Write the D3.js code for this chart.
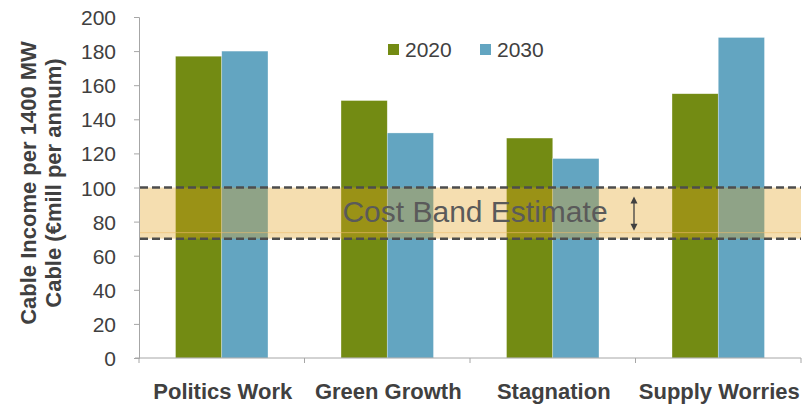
<!DOCTYPE html>
<html>
<head>
<meta charset="utf-8">
<script src="https://cdn.jsdelivr.net/npm/d3@7"></script>
<style>
  html, body { margin: 0; padding: 0; background: #fff; }
  svg { display: block; font-family: "Liberation Sans", Arial, sans-serif; }
</style>
</head>
<body>
<svg id="chart" width="803" height="409"></svg>
<script>
// Scenario data: cable income per 1400 MW cable (€mill per annum)
const scenarios = ["Politics Work", "Green Growth", "Stagnation", "Supply Worries"];
const years = ["2020", "2030"];
const income2020 = [177, 151, 129, 155];
const income2030 = [180, 132, 117, 188];
const yTicks = [0, 20, 40, 60, 80, 100, 120, 140, 160, 180, 200];
const costBand = [70, 100];
const colors = { "2020": "#738b13", "2030": "#63a5c1" };

const svg = d3.select("#chart");
const margin = { left: 139, right: 2, top: 17, bottom: 51 };
const W = 803, H = 409;

const x = d3.scaleBand().domain(scenarios)
  .range([margin.left, W - margin.right]).paddingInner(0).paddingOuter(0);
const x1 = d3.scaleBand().domain(years)
  .range([0, x.bandwidth()]).paddingOuter(0.79).paddingInner(0);
const y = d3.scaleLinear().domain([0, 200]).range([H - margin.bottom, margin.top]);

const rows = scenarios.map((s, i) => ({ s, v: { "2020": income2020[i], "2030": income2030[i] } }));

// Bars
const g = svg.append("g");
rows.forEach(r => {
  years.forEach(yr => {
    g.append("rect")
      .attr("x", x(r.s) + x1(yr))
      .attr("y", y(r.v[yr]))
      .attr("width", x1.bandwidth())
      .attr("height", y(0) - y(r.v[yr]))
      .attr("fill", colors[yr])
      .attr("stroke", "rgba(255,255,255,0.5)")
      .attr("stroke-width", 0.6);
  });
});

// Y axis
const yAxis = d3.axisLeft(y).tickValues(yTicks).tickSize(5).tickPadding(18);
const ya = svg.append("g").attr("transform", `translate(${margin.left},0)`).call(yAxis);
ya.select(".domain").attr("stroke", "#a6a6a6");
ya.selectAll(".tick line").attr("stroke", "#a6a6a6");
ya.selectAll(".tick text").attr("fill", "#404040").style("font-size", "21px")
  .style("font-family", "'Liberation Sans', Arial, sans-serif").attr("dy", "0.36em");

// X axis
const xa = svg.append("g").attr("transform", `translate(0,${y(0)})`);
xa.append("line").attr("x1", margin.left - 4).attr("x2", W - margin.right)
  .attr("y1", 0).attr("y2", 0).attr("stroke", "#a6a6a6");
const bounds = scenarios.map(s => x(s)).concat([x.range()[1]]);
xa.selectAll("line.tk").data(bounds).join("line").attr("class", "tk")
  .attr("x1", d => d).attr("x2", d => d).attr("y1", 0).attr("y2", 5)
  .attr("stroke", "#a6a6a6");
xa.selectAll("text").data(scenarios).join("text")
  .attr("x", d => x(d) + x.bandwidth() / 2 + 1)
  .attr("y", 41)
  .attr("text-anchor", "middle")
  .attr("fill", "#404040")
  .style("font-size", "22px")
  .style("font-weight", "bold")
  .text(d => d);

// Y axis title
const title = svg.append("text")
  .attr("transform", `translate(0,183) rotate(-90)`)
  .attr("text-anchor", "middle")
  .attr("fill", "#404040")
  .style("font-size", "22px")
  .style("font-weight", "bold");
title.append("tspan").attr("x", 0).attr("y", 36).text("Cable Income per 1400 MW");
title.append("tspan").attr("x", 0).attr("y", 61).text("Cable (€mill per annum)");

// Cost band
const band = svg.append("g");
band.append("rect")
  .attr("x", margin.left + 1).attr("width", W - margin.right - margin.left - 1)
  .attr("y", y(costBand[1])).attr("height", y(costBand[0]) - y(costBand[1]))
  .attr("fill", "rgb(226,161,29)").attr("fill-opacity", 0.35);
band.append("line")
  .attr("x1", margin.left + 1).attr("x2", W - margin.right)
  .attr("y1", y(costBand[0]) - 6).attr("y2", y(costBand[0]) - 6)
  .attr("stroke", "rgb(236,190,110)").attr("stroke-opacity", 0.6);
costBand.forEach(v => {
  band.append("line")
    .attr("x1", margin.left + 1).attr("x2", W - margin.right)
    .attr("y1", y(v)).attr("y2", y(v))
    .attr("stroke", "#4d4d4d").attr("stroke-width", 2.5)
    .attr("stroke-dasharray", "8,4");
});
band.append("text")
  .attr("x", 475).attr("y", 222)
  .attr("text-anchor", "middle")
  .attr("fill", "#5a5a5a")
  .style("font-size", "30px")
  .text("Cost Band Estimate");

// Double-headed arrow
const ax = 634, ay1 = y(costBand[1]) + 9, ay2 = y(costBand[0]) - 8;
band.append("line").attr("x1", ax).attr("x2", ax).attr("y1", ay1 + 4).attr("y2", ay2 - 4)
  .attr("stroke", "#404040").attr("stroke-width", 1.3);
band.append("path").attr("d", `M${ax},${ay1} L${ax - 3.5},${ay1 + 7} L${ax + 3.5},${ay1 + 7} Z`).attr("fill", "#404040");
band.append("path").attr("d", `M${ax},${ay2} L${ax - 3.5},${ay2 - 7} L${ax + 3.5},${ay2 - 7} Z`).attr("fill", "#404040");

// Legend
const legend = svg.append("g");
const legendX = [388, 480];
years.forEach((yr, i) => {
  legend.append("rect").attr("x", legendX[i]).attr("y", 44).attr("width", 11).attr("height", 11)
    .attr("fill", colors[yr]);
  legend.append("text").attr("x", legendX[i] + 17).attr("y", 57)
    .attr("fill", "#404040").style("font-size", "21px").text(yr);
});
</script>
</body>
</html>
